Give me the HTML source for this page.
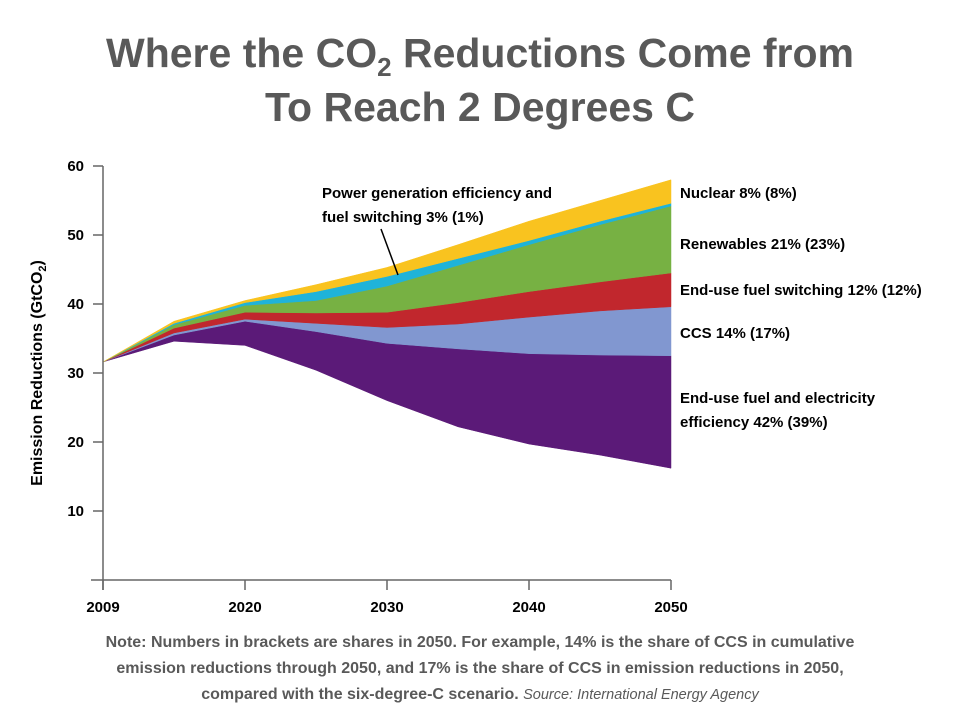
<!DOCTYPE html>
<html><head><meta charset="utf-8"><style>
body{margin:0;background:#fff;width:960px;height:720px;overflow:hidden;font-family:"Liberation Sans",sans-serif}
.t{position:absolute;left:0;width:960px;text-align:center;color:#595959;font-weight:bold;font-size:41px}
.note{position:absolute;left:0;width:960px;text-align:center;color:#595959;font-weight:bold;font-size:16px;line-height:26px;top:630px;white-space:nowrap}
</style></head><body>
<div class="t" style="top:30px">Where the CO<sub style="font-size:26px">2</sub> Reductions Come from</div>
<div class="t" style="top:84px">To Reach 2 Degrees C</div>
<svg id="c" width="960" height="720" style="position:absolute;left:0;top:0"></svg>
<div class="note">Note: Numbers in brackets are shares in 2050. For example, 14% is the share of CCS in cumulative<br>emission reductions through 2050, and 17% is the share of CCS in emission reductions in 2050,<br>compared with the six-degree-C scenario. <span style="font-weight:normal;font-style:italic;font-size:14.5px">Source: International Energy Agency</span></div>
<script>
const years=[2009,2015,2020,2025,2030,2035,2040,2045,2050];
const xLabels=["2009","","2020","","2030","","2040","","2050"];
const yTicks=[10,20,30,40,50,60];
const base=[31.6,34.6,34,30.4,26,22.2,19.7,18.1,16.2];
const efficiency=[0,0.9,3.5,5.6,8.3,11.3,13.1,14.5,16.3];
const ccs=[0,0.3,0.3,1.2,2.3,3.6,5.3,6.4,7.1];
const fuelSwitch=[0,0.7,1.0,1.5,2.2,3.1,3.7,4.2,4.9];
const renewables=[0,0.5,1.0,1.8,3.8,5.4,6.8,8.3,9.7];
const powerGen=[0,0.2,0.4,1.3,1.4,1.0,0.6,0.5,0.4];
const nuclear=[0,0.3,0.3,1.0,1.3,2.0,2.8,3.0,3.4];
const NS="http://www.w3.org/2000/svg",svg=document.getElementById('c');
const X=i=>103+i*71, Y=v=>580-v*6.9;
function mk(t,a,p){const e=document.createElementNS(NS,t);for(const k in a)e.setAttribute(k,a[k]);(p||svg).appendChild(e);return e;}
const layers=[[efficiency,'#5b1a78','area-end-use-efficiency'],[ccs,'#8197d0','area-ccs'],[fuelSwitch,'#c1272d','area-end-use-fuel-switching'],[renewables,'#77b143','area-renewables'],[powerGen,'#1fb3d9','area-power-generation'],[nuclear,'#f9c31f','area-nuclear']];
let cum=base.slice();
layers.forEach(([arr,col,name])=>{
  const top=cum.map((v,i)=>v+arr[i]);
  let d='M'+top.map((v,i)=>X(i)+','+Y(v)).join('L');
  for(let i=cum.length-1;i>=0;i--)d+='L'+X(i)+','+Y(cum[i]);
  const p=mk('path',{d:d+'Z',fill:col,stroke:col,'stroke-width':0.5});
  
  
  cum=top;
});
const ax='#666';
mk('line',{x1:103,y1:166,x2:103,y2:590,stroke:ax,'stroke-width':1.5});
mk('line',{x1:91,y1:580,x2:671,y2:580,stroke:ax,'stroke-width':1.5});
yTicks.forEach(v=>{mk('line',{x1:93,y1:Y(v),x2:103,y2:Y(v),stroke:ax,'stroke-width':1.5});
  const t=mk('text',{x:84,y:Y(v)+5,'text-anchor':'end','font-size':15,'font-weight':'bold',fill:'#000'});t.textContent=v;
  });
years.forEach((y,i)=>{
  if(xLabels[i]){mk('line',{x1:X(i),y1:580,x2:X(i),y2:590,stroke:ax,'stroke-width':1.5});
  const t=mk('text',{x:X(i),y:612,'text-anchor':'middle','font-size':15,'font-weight':'bold'});t.textContent=xLabels[i];
  }});
const yt=mk('text',{transform:'translate(42,373) rotate(-90)','text-anchor':'middle','font-size':16,'font-weight':'bold'});
yt.innerHTML='Emission Reductions (GtCO<tspan font-size="11" dy="4">2</tspan><tspan dy="-4">)</tspan>';

const labs=[[680,198,'Nuclear 8% (8%)'],[680,249,'Renewables 21% (23%)'],[680,295,'End-use fuel switching 12% (12%)'],[680,338,'CCS 14% (17%)'],[680,403,'End-use fuel and electricity'],[680,427,'efficiency 42% (39%)'],[322,198,'Power generation efficiency and'],[322,222,'fuel switching 3% (1%)']];
labs.forEach(([x,y,s])=>{const t=mk('text',{x:x,y:y,'font-size':15,'font-weight':'bold'});t.textContent=s;
  });
mk('line',{x1:381,y1:229,x2:398,y2:275,stroke:'#000','stroke-width':1.5});
</script>
</body></html>
